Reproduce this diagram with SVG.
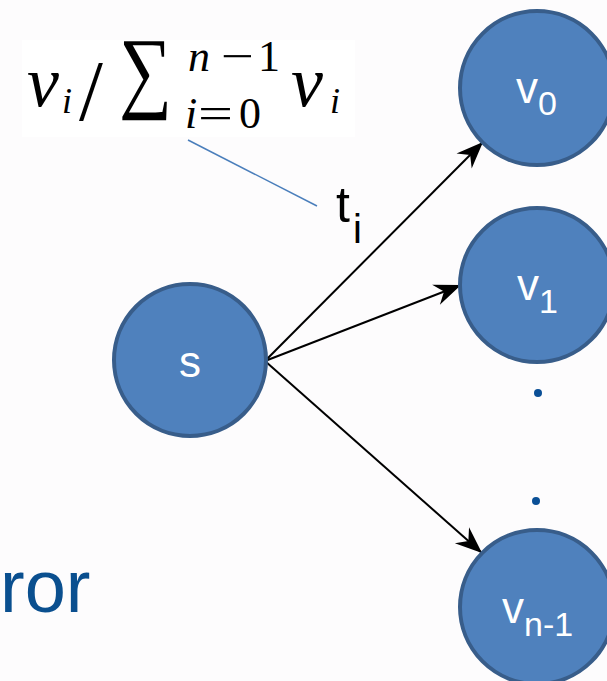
<svg xmlns="http://www.w3.org/2000/svg" width="607" height="681" viewBox="0 0 607 681">
<defs>
<style>
.node{fill:#4f81bd;stroke:#385d8a;stroke-width:4}
.lbl{fill:#ffffff;font-family:"Liberation Sans",Arial,sans-serif}
.edge{stroke:#000;stroke-width:2;fill:none;marker-end:url(#ah)}
.math{font-family:"Liberation Serif","Times New Roman",serif;fill:#000}
.it{font-style:italic}
.dot{fill:#0a4f96}
</style>
<marker id="ah" markerUnits="userSpaceOnUse" markerWidth="30" markerHeight="30" viewBox="-26 -12 28 24" refX="0" refY="0" orient="auto">
<path d="M0,0 L-25,-10 L-17,0 L-25,10 Z" fill="#000"/>
</marker>
</defs>
<rect x="0" y="0" width="607" height="681" fill="#fdfcfd"/>
<g id="formula">
<rect x="22" y="40" width="333" height="97" fill="#ffffff"/>
<text class="math it" font-size="72" x="27" y="106">v</text>
<text class="math it" font-size="36" x="62" y="113">i</text>
<text class="math" font-size="86" x="79" y="120">/</text>
<text class="math" font-size="91" x="119" y="101" textLength="53" lengthAdjust="spacingAndGlyphs">∑</text>
<text class="math it" font-size="44" x="188" y="71">n</text>
<text class="math" font-size="44" x="221" y="71" textLength="33" lengthAdjust="spacingAndGlyphs">−</text>
<text class="math" font-size="44" x="258" y="71">1</text>
<text class="math it" font-size="44" x="185" y="128">i</text>
<text class="math" font-size="44" x="198" y="128" textLength="35" lengthAdjust="spacingAndGlyphs">=</text>
<text class="math" font-size="44" x="239" y="128">0</text>
<text class="math it" font-size="72" x="291" y="106">v</text>
<text class="math it" font-size="36" x="330" y="113">i</text>
</g>
<line x1="188" y1="140" x2="317" y2="206" stroke="#4a7ebb" stroke-width="1.5"/>
<g id="label-ti">
<text font-family="'Liberation Sans',Arial,sans-serif" font-size="50" x="336" y="222" fill="#000">t</text>
<text font-family="'Liberation Sans',Arial,sans-serif" font-size="40" x="353" y="243" fill="#000">i</text>
</g>
<g id="connectors">
<line class="edge" x1="265" y1="361" x2="483" y2="142"/>
<line class="edge" x1="265" y1="361" x2="461" y2="285"/>
<line class="edge" x1="265" y1="361" x2="482" y2="553"/>
</g>
<g id="node-s">
<circle class="node" cx="190" cy="360" r="76"/>
<text class="lbl" font-size="44" x="190" y="377" text-anchor="middle">s</text>
</g>
<g id="node-v0">
<circle class="node" cx="537" cy="88" r="77"/>
<text class="lbl" x="516" y="103"><tspan font-size="44">v</tspan><tspan font-size="34" dy="12">0</tspan></text>
</g>
<g id="node-v1">
<circle class="node" cx="537" cy="285" r="77"/>
<text class="lbl" x="517" y="300"><tspan font-size="44">v</tspan><tspan font-size="34" dy="13">1</tspan></text>
</g>
<g id="node-vn1">
<circle class="node" cx="537" cy="607" r="77"/>
<text class="lbl" x="502" y="623"><tspan font-size="44">v</tspan><tspan font-size="34" dy="13">n-1</tspan></text>
</g>
<g id="dots">
<circle class="dot" cx="538" cy="393" r="4"/>
<circle class="dot" cx="536" cy="501" r="4"/>
</g>
<text font-family="'Liberation Sans',Arial,sans-serif" font-size="74" x="0" y="612" fill="#0a4f8f">ror</text>
</svg>
